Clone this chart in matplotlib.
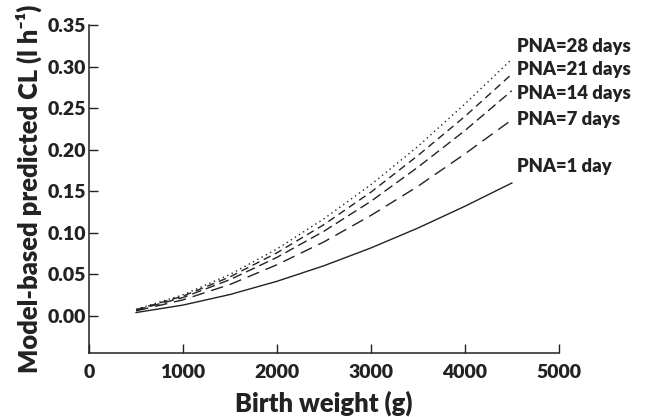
import numpy as np
import matplotlib
matplotlib.use('Agg')
import matplotlib.pyplot as plt

plt.rcParams['font.family'] = ['Lato', 'DejaVu Sans']
plt.rcParams['font.weight'] = 'heavy'

# birth weight (g) and model predicted CL (l/h)
bw = [500, 1000, 1500, 2000, 2500, 3000, 3500, 4000, 4500]
cl_pna1 = [0.0042, 0.0132, 0.0259, 0.0418, 0.0605, 0.0819, 0.1058, 0.132, 0.160]
cl_pna7 = [0.0062, 0.0195, 0.038, 0.0617, 0.0892, 0.121, 0.156, 0.195, 0.236]
cl_pna14 = [0.0071, 0.0223, 0.0438, 0.0706, 0.102, 0.138, 0.179, 0.223, 0.271]
cl_pna21 = [0.0076, 0.024, 0.0471, 0.0761, 0.110, 0.149, 0.193, 0.240, 0.291]
cl_pna28 = [0.0081, 0.0255, 0.050, 0.0807, 0.117, 0.158, 0.204, 0.255, 0.309]

labels = ['PNA=1 day', 'PNA=7 days', 'PNA=14 days', 'PNA=21 days', 'PNA=28 days']
label_y = [0.180, 0.236, 0.268, 0.297, 0.3237]

fig = plt.figure(figsize=(6.46, 4.17), dpi=100)
ax = fig.add_axes([0.138, 0.154, 0.727, 0.786])

series = [cl_pna1, cl_pna7, cl_pna14, cl_pna21, cl_pna28]
dashes = [None, (9, 5), (7, 3.5), (5.5, 3.5), (1, 2.5)]
for ys, d in zip(series, dashes):
    line, = ax.plot(bw, ys, color='#222222', lw=1.0)
    if d is not None:
        line.set_dashes(d)

W = 'heavy'
for lab, y in zip(labels, label_y):
    ax.text(4560, y, lab, fontsize=13.3, fontweight=W, color='#222222',
            va='center', ha='left', clip_on=False)

ax.set_xlim(0, 5000)
ax.set_ylim(-0.0442, 0.35)
ax.set_xticks(np.arange(0, 5001, 1000))
ax.set_yticks(np.arange(0, 0.351, 0.05))
ax.set_yticklabels(['%.2f' % v for v in np.arange(0, 0.351, 0.05)])
ax.spines['top'].set_visible(False)
ax.spines['right'].set_visible(False)
for s in ['left', 'bottom']:
    ax.spines[s].set_linewidth(1.1)
    ax.spines[s].set_color('#222222')
ax.tick_params(direction='in', length=6.5, width=1.0, colors='#222222',
               labelsize=14, pad=2)
for t in ax.get_xticklabels() + ax.get_yticklabels():
    t.set_fontweight(W)
ax.tick_params(axis='x', pad=8)

ax.set_xlabel('Birth weight (g)', fontsize=18.4, fontweight=W, color='#222222', labelpad=7)
ax.set_ylabel('Model-based predicted CL (l h\u207b\u00b9)', fontsize=18.4, fontweight=W,
              color='#222222', labelpad=4)

fig.savefig('out.png', dpi=100)
